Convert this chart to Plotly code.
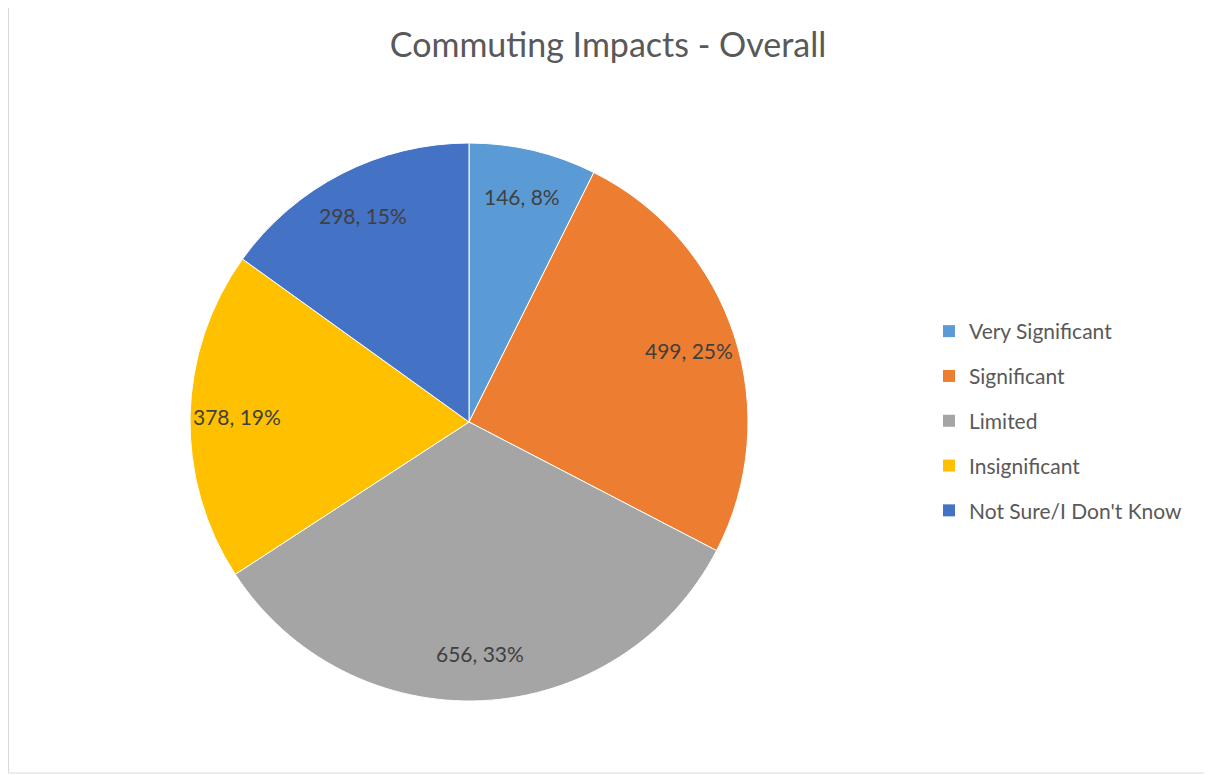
import math
import plotly.graph_objects as go

categories = ["Very Significant", "Significant", "Limited", "Insignificant", "Not Sure/I Don't Know"]
values = [146, 499, 656, 378, 298]
percent_labels = ["8%", "25%", "33%", "19%", "15%"]
colors = ["#5B9BD5", "#ED7D31", "#A5A5A5", "#FFC000", "#4472C4"]

W, H = 1212, 775
OFF = 8  # page body margin
FONT = "Lato, 'Open Sans', sans-serif"


def fx(px):
    return (px - OFF) / W


def fy(py):
    return 1 - (py - OFF) / H


# pie placement in page pixels (square)
px0, px1 = 190, 748
py0, py1 = 143, 701

fig = go.Figure()
fig.add_trace(go.Pie(
    labels=categories, values=values, sort=False, direction="clockwise", rotation=0,
    marker=dict(colors=colors, line=dict(color="white", width=1)),
    textinfo="none", showlegend=False,
    domain=dict(x=[fx(px0), fx(px1)], y=[fy(py1), fy(py0)]),
))

# legend entries
for c, col in zip(categories, colors):
    fig.add_trace(go.Scatter(
        x=[None], y=[None], mode="markers", name=c, legendgroup=c,
        marker=dict(symbol="square", size=12, color=col),
    ))

# data labels placed along each slice's mid-angle
total = sum(values)
cx, cy = (px0 + px1) / 2, (py0 + py1) / 2
R = (px1 - px0) / 2
label_r = 0.83
cum = 0
annotations = []
for v, p in zip(values, percent_labels):
    mid = (cum + v / 2) / total * 2 * math.pi
    cum += v
    lx = cx + label_r * R * math.sin(mid)
    ly = cy - label_r * R * math.cos(mid)
    annotations.append(dict(
        x=fx(lx), y=fy(ly), xref="paper", yref="paper",
        xanchor="center", yanchor="middle",
        text=f"{v}, {p}", showarrow=False,
        font=dict(family=FONT, size=21, color="#404040"),
    ))

fig.update_layout(
    width=W, height=H,
    margin=dict(l=0, r=0, t=0, b=0),
    paper_bgcolor="white", plot_bgcolor="white",
    title=dict(text="Commuting Impacts - Overall", x=fx(608), xanchor="center",
               y=fy(45), yanchor="middle",
               font=dict(family=FONT, size=34, color="#595959")),
    xaxis=dict(visible=False), yaxis=dict(visible=False),
    legend=dict(x=fx(929), xanchor="left", y=fy(421), yanchor="middle",
                font=dict(family=FONT, size=21, color="#595959"),
                tracegroupgap=14.5, traceorder="grouped"),
    annotations=annotations,
    shapes=[dict(type="rect", xref="paper", yref="paper",
                 x0=0.5 / W, x1=1.3, y0=fy(773), y1=1.3,
                 line=dict(color="#D9D9D9", width=1))],
)

fig.write_html("out.html")
